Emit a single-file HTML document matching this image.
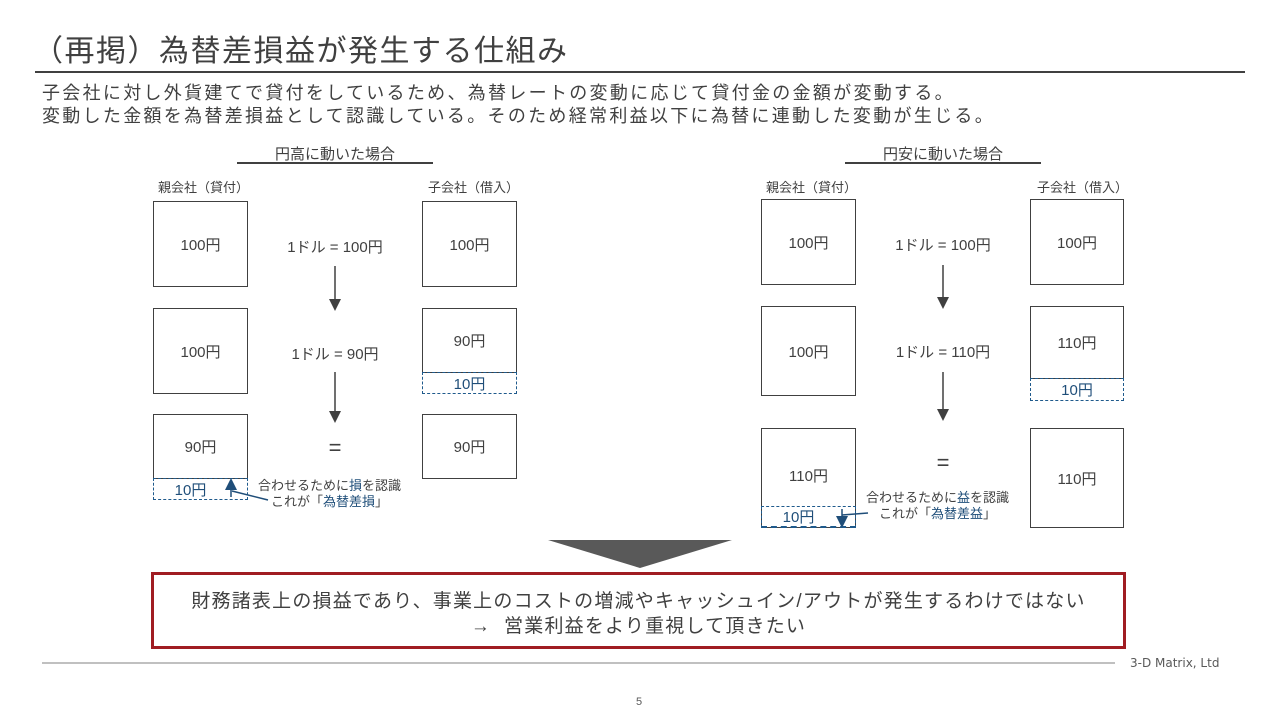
<!DOCTYPE html>
<html><head><meta charset="utf-8"><style>
body{margin:0;width:1280px;height:720px;background:#fff;position:relative;overflow:hidden;font-family:"Liberation Sans","Noto Sans CJK JP",sans-serif;color:#404040}
.a{position:absolute;white-space:nowrap}
.b{position:absolute;border:1.3px solid #404040;box-sizing:border-box;display:flex;align-items:center;justify-content:center;font-size:15px}
.d{position:absolute;border:1.3px dashed #1f5a8c;box-sizing:border-box;display:flex;align-items:center;justify-content:center;font-size:15px;color:#1f4e79}
.c{transform:translateX(-50%);font-size:15px}
.s{font-size:13px}
.bl{color:#1f4e79}
</style></head><body>
<div class="a" style="left:33px;top:26px;font-size:30px;color:#404040;letter-spacing:1.5px">（再掲）為替差損益が発生する仕組み</div>
<div class="a" style="left:35px;top:71px;width:1210px;height:2px;background:#404040"></div>
<div class="a" style="left:42px;top:82px;font-size:18px;line-height:23px;letter-spacing:2.3px">子会社に対し外貨建てで貸付をしているため、為替レートの変動に応じて貸付金の金額が変動する。<br>変動した金額を為替差損益として認識している。そのため経常利益以下に為替に連動した変動が生じる。</div>

<!-- left -->
<div class="a c" style="left:335px;top:143px">円高に動いた場合</div>
<div class="a" style="left:237px;top:162px;width:196px;height:1.5px;background:#404040"></div>
<div class="a s" style="left:158px;top:177px">親会社（貸付）</div>
<div class="a s" style="left:428px;top:177px">子会社（借入）</div>
<div class="b" style="left:153px;top:201px;width:95px;height:86px">100円</div>
<div class="b" style="left:153px;top:308px;width:95px;height:86px">100円</div>
<div class="b" style="left:153px;top:414px;width:95px;height:65px">90円</div>
<div class="d" style="left:153px;top:478px;width:95px;height:22px;padding-right:20px">10円</div>
<div class="b" style="left:422px;top:201px;width:95px;height:86px">100円</div>
<div class="b" style="left:422px;top:308px;width:95px;height:65px">90円</div>
<div class="d" style="left:422px;top:372px;width:95px;height:22px">10円</div>
<div class="b" style="left:422px;top:414px;width:95px;height:65px">90円</div>
<div class="a c" style="left:335px;top:236px">1ドル = 100円</div>
<div class="a c" style="left:335px;top:343px">1ドル = 90円</div>
<div class="a c" style="left:335px;top:435px;font-size:22px">=</div>
<div class="a s" style="left:258px;top:478px;line-height:16px;text-align:center">合わせるために<span class="bl">損</span>を認識<br>これが「<span class="bl">為替差損</span>」</div>

<!-- right -->
<div class="a c" style="left:943px;top:143px">円安に動いた場合</div>
<div class="a" style="left:845px;top:162px;width:196px;height:1.5px;background:#404040"></div>
<div class="a s" style="left:766px;top:177px">親会社（貸付）</div>
<div class="a s" style="left:1037px;top:177px">子会社（借入）</div>
<div class="b" style="left:761px;top:199px;width:95px;height:86px">100円</div>
<div class="b" style="left:761px;top:306px;width:95px;height:90px">100円</div>
<div class="b" style="left:761px;top:428px;width:95px;height:100px;padding-bottom:5px">110円</div>
<div class="d" style="left:761px;top:506px;width:95px;height:22px;padding-right:20px;border-bottom-width:2px">10円</div>
<div class="b" style="left:1030px;top:199px;width:94px;height:86px">100円</div>
<div class="b" style="left:1030px;top:306px;width:94px;height:73px">110円</div>
<div class="d" style="left:1030px;top:378px;width:94px;height:23px">10円</div>
<div class="b" style="left:1030px;top:428px;width:94px;height:100px">110円</div>
<div class="a c" style="left:943px;top:234px">1ドル = 100円</div>
<div class="a c" style="left:943px;top:341px">1ドル = 110円</div>
<div class="a c" style="left:943px;top:450px;font-size:22px">=</div>
<div class="a s" style="left:866px;top:490px;line-height:16px;text-align:center">合わせるために<span class="bl">益</span>を認識<br>これが「<span class="bl">為替差益</span>」</div>

<svg class="a" style="left:0;top:0" width="1280" height="720">
<defs><marker id="m" markerWidth="8" markerHeight="8" refX="4" refY="4" orient="auto"><path d="M0,0L8,4L0,8z" fill="#404040"/></marker>
<marker id="n" markerWidth="8" markerHeight="8" refX="4" refY="4" orient="auto"><path d="M0,0L8,4L0,8z" fill="#1f4e79"/></marker></defs>
<g stroke="#404040" stroke-width="1.5">
<line x1="335" y1="266" x2="335" y2="305" marker-end="url(#m)"/>
<line x1="335" y1="372" x2="335" y2="417" marker-end="url(#m)"/>
<line x1="943" y1="265" x2="943" y2="303" marker-end="url(#m)"/>
<line x1="943" y1="372" x2="943" y2="415" marker-end="url(#m)"/>
</g>
<g stroke="#1f4e79" stroke-width="1.5" fill="none">
<line x1="231" y1="497" x2="231" y2="484" marker-end="url(#n)"/>
<line x1="232" y1="491" x2="268" y2="500"/>
<line x1="842" y1="509" x2="842" y2="522" marker-end="url(#n)"/>
<line x1="842" y1="515" x2="868" y2="513"/>
</g>
<polygon points="548,540 732,540 640,568" fill="#595959"/>
<line x1="42" y1="663" x2="1115" y2="663" stroke="#808080" stroke-width="1"/>
</svg>

<div class="a" style="left:151px;top:572px;width:975px;height:77px;border:3px solid #a01c22;box-sizing:border-box"></div>
<div class="a" style="left:151px;top:589px;width:975px;text-align:center;font-size:19px;line-height:25px;color:#404040;letter-spacing:1.2px">財務諸表上の損益であり、事業上のコストの増減やキャッシュイン/アウトが発生するわけではない<br>→&nbsp; 営業利益をより重視して頂きたい</div>
<div class="a" style="left:1130px;top:656px;font-size:12px;color:#595959;font-family:'DejaVu Sans',sans-serif">3-D Matrix, Ltd</div>
<div class="a" style="left:636px;top:696px;font-size:11px;color:#595959">5</div>
</body></html>
